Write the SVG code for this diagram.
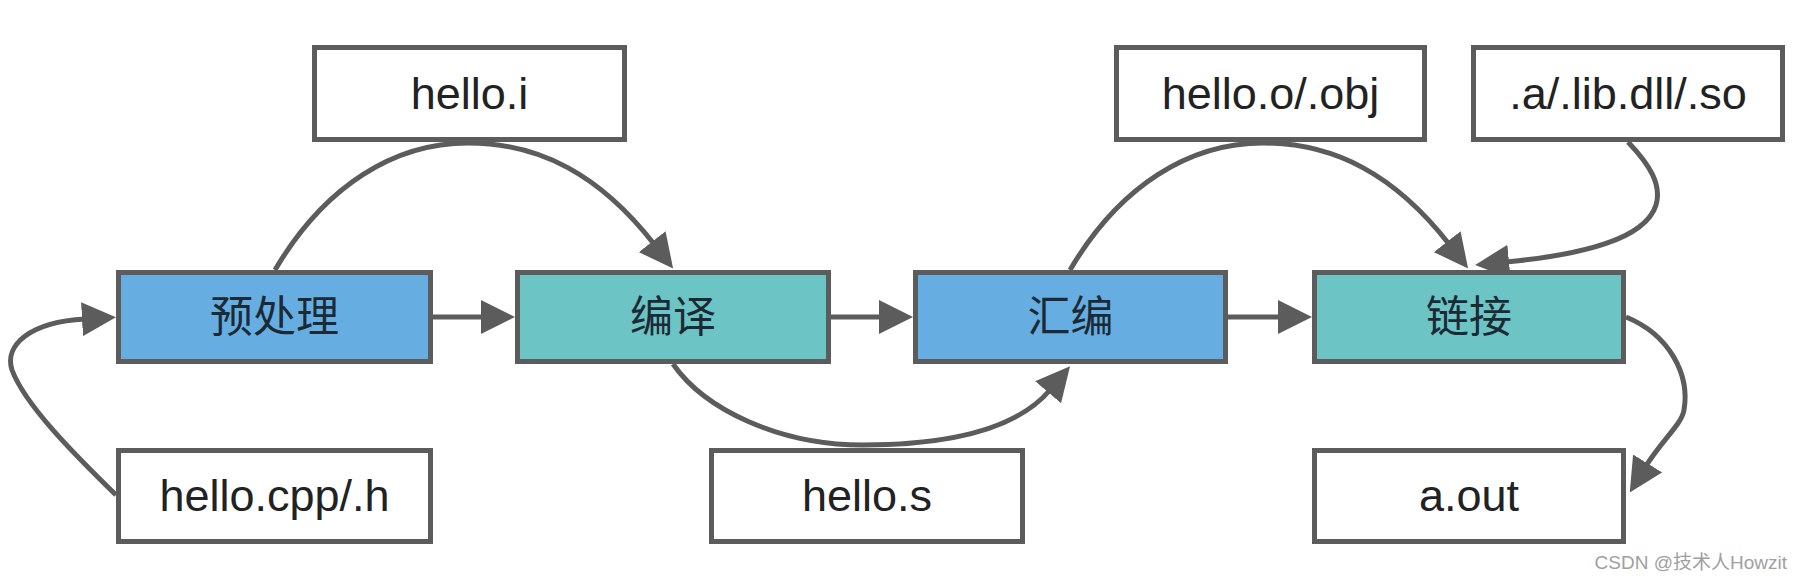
<svg xmlns="http://www.w3.org/2000/svg" width="1804" height="580" viewBox="0 0 1804 580">
  <defs>
    <style>
      .box { stroke: #5c5c5c; stroke-width: 5; }
      .white { fill: #ffffff; }
      .blue { fill: #66aee2; }
      .teal { fill: #6dc4c4; }
      .lat { font-family: "Liberation Sans", Arial, sans-serif; font-size: 45px; fill: #222222; text-anchor: middle; }
      .cjk { font-family: "Noto Sans CJK SC", "Noto Sans", sans-serif; font-size: 43px; fill: #1c2a35; text-anchor: middle; }
      .edge { fill: none; stroke: #5c5c5c; stroke-width: 5; marker-end: url(#arrow); }
      .wm { font-family: "Liberation Sans", "Noto Sans CJK SC", sans-serif; font-size: 19px; fill: #a0a0a0; text-anchor: end; }
    </style>
    <marker id="arrow" viewBox="0 0 34 34" refX="3" refY="17" markerWidth="34" markerHeight="34" markerUnits="userSpaceOnUse" orient="auto">
      <path d="M0,0 L34,17 L0,34 Z" fill="#5c5c5c"/>
    </marker>
  </defs>

  <g id="connectors">
    <path class="edge" d="M116,495 C75,455 25,405 12,370 C4,345 30,322 85,319"/>
    <path class="edge" d="M433,317 H484"/>
    <path class="edge" d="M831,317 H882"/>
    <path class="edge" d="M1228,317 H1281"/>
    <path class="edge" d="M275,270 C325,185 395,143 468,143 C540,143 600,175 654,244"/>
    <path class="edge" d="M673,364 C705,410 780,445 863,445 C930,445 1011,436 1050,390"/>
    <path class="edge" d="M1070,270 C1120,185 1190,143 1263,143 C1335,143 1395,175 1449,244"/>
    <path class="edge" d="M1628,142 C1650,165 1662,185 1656,205 C1645,240 1580,255 1506,262"/>
    <path class="edge" d="M1626,317 C1670,335 1690,375 1684,410 C1682,424 1662,440 1646,466"/>
  </g>

  <g id="n-preprocess">
    <rect class="box blue" x="118.5" y="272.5" width="312" height="89"/>
    <text class="cjk" x="274.5" y="332">预处理</text>
  </g>
  <g id="n-compile">
    <rect class="box teal" x="517.5" y="272.5" width="311" height="89"/>
    <text class="cjk" x="673" y="332">编译</text>
  </g>
  <g id="n-assemble">
    <rect class="box blue" x="915.5" y="272.5" width="310" height="89"/>
    <text class="cjk" x="1070.5" y="332">汇编</text>
  </g>
  <g id="n-link">
    <rect class="box teal" x="1314.5" y="272.5" width="309" height="89"/>
    <text class="cjk" x="1469" y="332">链接</text>
  </g>

  <g id="n-hello-i">
    <rect class="box white" x="314.5" y="47.5" width="310" height="92"/>
    <text class="lat" x="469.5" y="109">hello.i</text>
  </g>
  <g id="n-hello-o">
    <rect class="box white" x="1116.5" y="47.5" width="308" height="92"/>
    <text class="lat" x="1270.5" y="109">hello.o/.obj</text>
  </g>
  <g id="n-libs">
    <rect class="box white" x="1473.5" y="47.5" width="309" height="92"/>
    <text class="lat" x="1628" y="109">.a/.lib.dll/.so</text>
  </g>
  <g id="n-hello-cpp">
    <rect class="box white" x="118.5" y="450.5" width="312" height="91"/>
    <text class="lat" x="274.5" y="511">hello.cpp/.h</text>
  </g>
  <g id="n-hello-s">
    <rect class="box white" x="711.5" y="450.5" width="311" height="91"/>
    <text class="lat" x="867" y="511">hello.s</text>
  </g>
  <g id="n-aout">
    <rect class="box white" x="1314.5" y="450.5" width="309" height="91"/>
    <text class="lat" x="1469" y="511">a.out</text>
  </g>

  <text class="wm" x="1787" y="569">CSDN @技术人Howzit</text>
</svg>
